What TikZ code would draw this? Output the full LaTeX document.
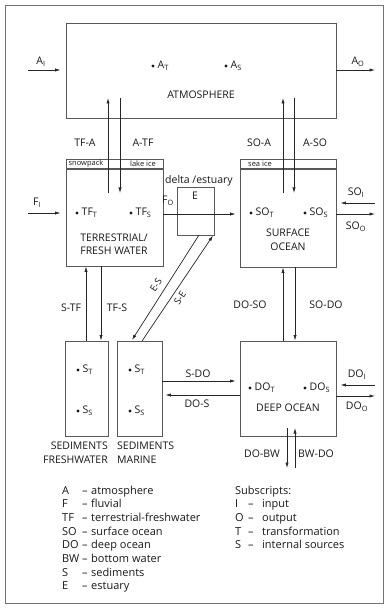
\documentclass[tikz,border=0pt]{standalone}
\usepackage{fontspec}
\setmainfont{Open Sans}
\usetikzlibrary{arrows.meta}
\newcommand\sbs[1]{\textsubscript{#1}}
\begin{document}
\begin{tikzpicture}[x=1pt,y=-1pt,
  font=\fontsize{10.5}{12}\selectfont, text=black!90,
  box/.style={draw=black!65, line width=0.8pt, inner sep=0pt},
  arr/.style={-{Latex[length=5.5pt,width=3.2pt]}, line width=0.7pt, draw=black!85},
  lbl/.style={inner sep=0pt},
  pool/.style={inner sep=0pt, anchor=west},
  dotm/.style={fill=black!90},
  small/.style={inner sep=0pt, font=\fontsize{7.5}{9}\selectfont},
  leg/.style={inner sep=0pt, anchor=base west, font=\fontsize{11}{13}\selectfont}]
\useasboundingbox (0,0) rectangle (388,612);
\fill[white] (0,0) rectangle (388,612);
% frame
\node[draw=black!55, line width=0.8pt, minimum width=378pt, minimum height=598pt] (frame) at (194,304) {};
% boxes
\node[box, minimum width=270pt, minimum height=95pt] (atm) at (201,70.5) {};
\node[box, minimum width=97pt, minimum height=9pt] (snow) at (114.5,163.5) {};
\node[box, minimum width=97pt, minimum height=97pt] (tf) at (114.5,217.5) {};
\node[box, minimum width=96pt, minimum height=9pt] (seaice) at (288,163.5) {};
\node[box, minimum width=96pt, minimum height=98pt] (so) at (288,218) {};
\node[box, minimum width=37pt, minimum height=48pt] (e) at (195.5,211) {};
\node[box, minimum width=43pt, minimum height=95pt] (sedfw) at (86.5,388.5) {};
\node[box, minimum width=45pt, minimum height=95pt] (sedm) at (139.5,388.5) {};
\node[box, minimum width=96pt, minimum height=95pt] (do) at (288,388.5) {};
% texts in boxes
\node[lbl] (atmtxt) at (201,95) {ATMOSPHERE};
\fill[dotm] (153,66) circle (1.6pt);
\node[pool] (at) at (157.5,66) {A\sbs{T}};
\fill[dotm] (226,66) circle (1.6pt);
\node[pool] (as) at (230.5,66) {A\sbs{S}};
\node[small] (snowtxt) at (86,163.5) {snowpack};
\node[small] (laketxt) at (143,163.5) {lake ice};
\node[small] (seatxt) at (260,163.5) {sea ice};
\fill[dotm] (77,213) circle (1.6pt);
\node[pool] (tft) at (81.5,213) {TF\sbs{T}};
\fill[dotm] (131,213) circle (1.6pt);
\node[pool] (tfs) at (135.5,213) {TF\sbs{S}};
\node[lbl, align=center, font=\fontsize{10.5}{13}\selectfont] (tftxt) at (114,244.5) {TERRESTRIAL/\\FRESH WATER};
\fill[dotm] (251,213) circle (1.6pt);
\node[pool] (sot) at (255.5,213) {SO\sbs{T}};
\fill[dotm] (305,213) circle (1.6pt);
\node[pool] (sos) at (309.5,213) {SO\sbs{S}};
\node[lbl, align=center, font=\fontsize{10.5}{14}\selectfont] (sotxt) at (288,240) {SURFACE\\OCEAN};
\node[lbl] (deltatxt) at (199,181) {delta /estuary};
\node[lbl] (etxt) at (195,196) {E};
\fill[dotm] (78,370) circle (1.6pt);
\node[pool] (sft) at (82.5,370) {S\sbs{T}};
\fill[dotm] (78,411) circle (1.6pt);
\node[pool] (sfs) at (82.5,411) {S\sbs{S}};
\fill[dotm] (130,370) circle (1.6pt);
\node[pool] (smt) at (134.5,370) {S\sbs{T}};
\fill[dotm] (130,411) circle (1.6pt);
\node[pool] (sms) at (134.5,411) {S\sbs{S}};
\fill[dotm] (250,388) circle (1.6pt);
\node[pool] (dot) at (254.5,388) {DO\sbs{T}};
\fill[dotm] (305,388) circle (1.6pt);
\node[pool] (dos) at (309.5,388) {DO\sbs{S}};
\node[lbl] (dotxt) at (288,408) {DEEP OCEAN};
\node[lbl, anchor=base east] (sed1) at (108,449) {SEDIMENTS};
\node[lbl, anchor=base east] (sed2) at (108,463) {FRESHWATER};
\node[lbl, anchor=base west] (sed3) at (117,449) {SEDIMENTS};
\node[lbl, anchor=base west] (sed4) at (117,463) {MARINE};
% coordinates for free ends
\coordinate (ai) at (28,70);
\coordinate (ao) at (375,70);
\coordinate (fi) at (28,213);
\coordinate (rfo) at (0,214);
\coordinate (soi) at (375,203);
\coordinate (soo) at (375,214);
\coordinate (doi) at (375,385);
\coordinate (doo) at (375,396);
\coordinate (rsdo) at (0,381);
\coordinate (rdos) at (0,395);
\coordinate (tfa1) at (108,193); \coordinate (tfa2) at (108,98);
\coordinate (atf1) at (120,98);  \coordinate (atf2) at (120,193);
\coordinate (soa1) at (283,193); \coordinate (soa2) at (283,98);
\coordinate (aso1) at (294,98);  \coordinate (aso2) at (294,193);
\coordinate (xstf) at (86,0);
\coordinate (xtfs) at (101,0);
\coordinate (xdoso) at (283,0);
\coordinate (xsodo) at (295,0);
\coordinate (es1) at (199,235); \coordinate (es2) at (132,340);
\coordinate (se1) at (142,341); \coordinate (se2) at (213,235.5);
\coordinate (dobw1) at (287,428); \coordinate (dobw2) at (287,468);
\coordinate (bwdo1) at (295,468); \coordinate (bwdo2) at (295,428);
% connectors
\draw[arr, shorten >=5pt] (ai) -- (atm.west |- ai);
\draw[arr] (atm.east |- ao) -- (ao);
\draw[arr, shorten >=5pt] (fi) -- (tf.west |- fi);
\draw[arr, shorten >=4pt] (tf.east |- rfo) -- (so.west |- rfo);
\draw[arr, shorten >=4pt] (soi) -- (so.east |- soi);
\draw[arr] (so.east |- soo) -- (soo);
\draw[arr, shorten >=4pt] (doi) -- (do.east |- doi);
\draw[arr] (do.east |- doo) -- (doo);
\draw[arr, shorten >=4pt] (sedm.east |- rsdo) -- (do.west |- rsdo);
\draw[arr, shorten >=3pt] (do.west |- rdos) -- (sedm.east |- rdos);
\draw[arr] (tfa1) -- (tfa2);
\draw[arr] (atf1) -- (atf2);
\draw[arr] (soa1) -- (soa2);
\draw[arr] (aso1) -- (aso2);
\draw[arr] (sedfw.north -| xstf) -- (tf.south -| xstf);
\draw[arr] (tf.south -| xtfs) -- (sedfw.north -| xtfs);
\draw[arr] (do.north -| xdoso) -- (so.south -| xdoso);
\draw[arr] (so.south -| xsodo) -- (do.north -| xsodo);
\draw[arr] (es1) -- (es2);
\draw[arr] (se1) -- (se2);
\draw[arr] (dobw1) -- (dobw2);
\draw[arr] (bwdo1) -- (bwdo2);
% flux labels
\node[lbl] (lai) at (41,62) {A\sbs{I}};
\node[lbl] (lao) at (358,62) {A\sbs{O}};
\node[lbl] (lfi) at (37,203) {F\sbs{I}};
\node[lbl] (lfo) at (168,201) {F\sbs{O}};
\node[lbl] (lsoi) at (356,193) {SO\sbs{I}};
\node[lbl] (lsoo) at (356,227) {SO\sbs{O}};
\node[lbl] (ldoi) at (357,375) {DO\sbs{I}};
\node[lbl] (ldoo) at (357,407) {DO\sbs{O}};
\node[lbl] (ltfa) at (85,143) {TF-A};
\node[lbl] (latf) at (143,143) {A-TF};
\node[lbl] (lsoa) at (259,143) {SO-A};
\node[lbl] (laso) at (315,143) {A-SO};
\node[lbl] (lstf) at (71,308) {S-TF};
\node[lbl] (ltfs) at (117,308) {TF-S};
\node[lbl] (ldoso) at (250,305) {DO-SO};
\node[lbl] (lsodo) at (326,305) {SO-DO};
\node[lbl] (lsdo) at (198,374) {S-DO};
\node[lbl] (ldos) at (197,404) {DO-S};
\node[lbl] (ldobw) at (262,454) {DO-BW};
\node[lbl] (lbwdo) at (316,454) {BW-DO};
\node[lbl, rotate=57, font=\fontsize{9.5}{11}\selectfont] (les) at (156,285) {E-S};
\node[lbl, rotate=57, font=\fontsize{9.5}{11}\selectfont] (lse) at (180,298) {S-E};
% legend
\foreach \ab/\tx [count=\i from 0] in {A/atmosphere, F/fluvial, TF/terrestrial-freshwater, SO/surface ocean, DO/deep ocean, BW/bottom water, S/sediments, E/estuary}{
  \node[leg] (lga\i) at (62,{494+13.7*\i}) {\ab};
  \node[leg] (lgd\i) at (82,{494+13.7*\i}) {–};
  \node[leg] (lgt\i) at (91,{494+13.7*\i}) {\tx};
}
\node[leg] (subs) at (235,494) {Subscripts:};
\foreach \ab/\tx [count=\i from 1] in {I/input, O/output, T/transformation, S/internal sources}{
  \node[leg] (lsa\i) at (235,{494+13.7*\i}) {\ab};
  \node[leg] (lsd\i) at (248,{494+13.7*\i}) {–};
  \node[leg] (lst\i) at (262,{494+13.7*\i}) {\tx};
}
\end{tikzpicture}
\end{document}
